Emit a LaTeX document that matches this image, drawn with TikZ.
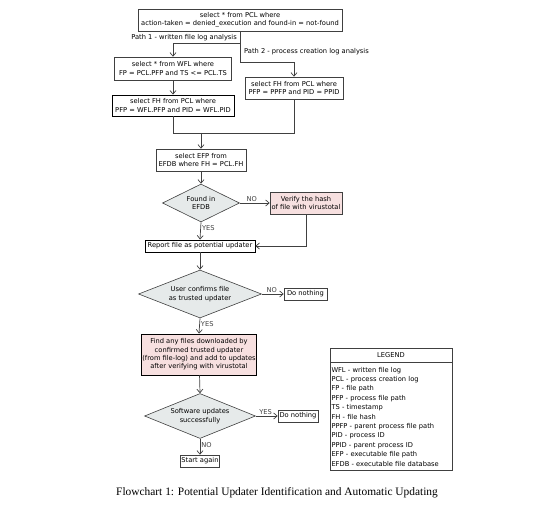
\documentclass[tikz,border=0pt]{standalone}
\usepackage{fontspec}
\setmainfont{Liberation Serif}
\setsansfont{DejaVu Sans}
\usepackage{tikz}
\usetikzlibrary{arrows.meta,positioning,shapes.geometric}
\definecolor{decgray}{HTML}{E6EAEA}
\definecolor{pinkfill}{HTML}{F7E0E0}
\definecolor{linegray}{HTML}{404040}
\newcommand{\flowsize}{\fontsize{6.7}{8.4}\selectfont}
\tikzset{
  box/.style={draw=linegray, rectangle, align=center, font=\sffamily\flowsize, inner sep=1.2pt, fill=white, line width=0.6pt},
  tbox/.style={box, draw=black, line width=0.9pt},
  pbox/.style={box, fill=pinkfill, draw=black!75},
  dec/.style={draw=linegray, diamond, align=center, font=\sffamily\flowsize, inner sep=0pt, fill=decgray, line width=0.6pt},
  arr/.style={-{Straight Barb[length=3.5pt,width=6pt]}, linegray, line width=0.7pt},
  conn/.style={linegray, line width=0.7pt},
  lbl/.style={font=\sffamily\flowsize, inner sep=1pt, align=center},
  legtext/.style={draw=linegray, rectangle, font=\sffamily\flowsize, line width=0.6pt, inner sep=1.2pt},
}

\begin{document}
\begin{tikzpicture}[x=1pt, y=-1pt]
\useasboundingbox (0,0) rectangle (535,518);
\node[box, minimum width=204, minimum height=22] (top) at (240,20) {select * from PCL where\\action-taken = denied\_execution and found-in = not-found};
\node[box, minimum width=117, minimum height=23] (wfl) at (173,68.5) {select * from WFL where\\FP = PCL.PFP and TS <= PCL.TS};
\node[tbox, minimum width=122, minimum height=21] (pclA) at (173,105.5) {select FH from PCL where\\PFP = WFL.PFP and PID = WFL.PID};
\node[box, minimum width=98, minimum height=22] (pclB) at (294,88) {select FH from PCL where\\PFP = PPFP and PID = PPID};
\node[box, minimum width=90, minimum height=22] (efdb) at (201,160) {select EFP from\\EFDB where FH = PCL.FH};
\node[dec, minimum width=77, minimum height=38, aspect=2] (found) at (201,203) {Found in\\EFDB};
\node[pbox, minimum width=72, minimum height=22] (verify) at (306,203) {Verify the hash\\of file with virustotal};
\node[tbox, minimum width=110, minimum height=12] (report) at (200,246) {Report file as potential updater};
\node[dec, minimum width=123, minimum height=48, aspect=2.5] (confirm) at (200,294) {User confirms file\\as trusted updater};
\node[box, minimum width=43, minimum height=12] (nothingA) at (305.5,294) {Do nothing};
\node[pbox, draw=black, line width=0.9pt, minimum width=114, minimum height=41] (findfiles) at (199,354.5) {Find any files downloaded by\\confirmed trusted updater\\(from file-log) and add to updates\\after verifying with virustotal};
\node[dec, minimum width=111, minimum height=45, aspect=2.4] (success) at (200,416) {Software updates\\successfully};
\node[box, minimum width=40, minimum height=12] (nothingB) at (298,416) {Do nothing};
\node[box, minimum width=39, minimum height=12] (again) at (200,461) {Start again};

% legend
\node[legtext, minimum width=122, minimum height=14] (leghead) at (391,355) {LEGEND};
\node[legtext, below=0pt of leghead, minimum width=122, minimum height=108, text width=119, align=left, font=\sffamily\fontsize{6.7}{9.4}\selectfont] (legbody) {WFL - written file log\\PCL - process creation log\\FP - file path\\PFP - process file path\\TS - timestamp\\FH - file hash\\PPFP - parent process file path\\PID - process ID\\PPID - parent process ID\\EFP - executable file path\\EFDB - executable file database};

\node[font=\fontsize{11.4}{13}\selectfont] (caption) at (277,493) {Flowchart 1: Potential Updater Identification and Automatic Updating};

% the two paths
\coordinate (split1) at (240,43);
\coordinate (split2) at (240,62);
\coordinate (join) at (201,133);
\draw[arr] (top.south) -- (split2) -| (pclB.north);
\draw[arr] (split1) -| (wfl.north);
\node[lbl, anchor=south east] (path1) at (238,42) {Path 1 - written file log analysis};
\node[lbl, anchor=west] (path2) at (243,52) {Path 2 - process creation log analysis};
\draw[arr] (wfl) -- (pclA);
\draw[conn] (pclA.south) |- (join);
\draw[conn] (pclB.south) |- (join);
\draw[arr] (join) -- (efdb.north);

% decisions
\draw[arr] (efdb) -- (found);
\draw[arr] (found.east) -- node[lbl, above, pos=0.4]{NO} (verify.west);
\draw[arr] (verify.south) |- (report.east);
\draw[arr] (found.south) -- node[lbl, right, pos=0.35]{YES} (report.north);
\draw[arr] (report) -- (confirm.north);
\draw[arr] (confirm.east) -- node[lbl, above, pos=0.45]{NO} (nothingA.west);
\draw[arr] (confirm.south) -- node[lbl, right, pos=0.4]{YES} (findfiles.north);
\draw[arr] (findfiles) -- (success.north);
\draw[arr] (success.east) -- node[lbl, above, pos=0.45]{YES} (nothingB.west);
\draw[arr] (success.south) -- node[lbl, right, pos=0.4]{NO} (again.north);
\end{tikzpicture}
\end{document}
